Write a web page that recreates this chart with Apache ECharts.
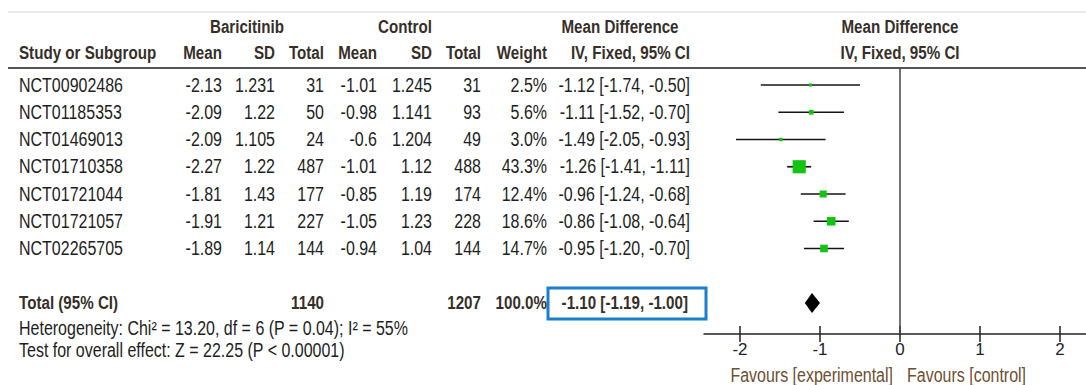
<!DOCTYPE html>
<html>
<head>
<meta charset="utf-8">
<title>Baricitinib vs Control – Mean Difference</title>
<script src="https://cdn.jsdelivr.net/npm/echarts@6/dist/echarts.min.js"></script>
<style>
  html, body { margin: 0; padding: 0; background: #ffffff; }
  #chart { width: 1086px; height: 385px; }
</style>
</head>
<body>
<div id="chart"></div>
<script>
// ---- study data ----
const studies   = ['NCT00902486', 'NCT01185353', 'NCT01469013', 'NCT01710358', 'NCT01721044', 'NCT01721057', 'NCT02265705'];
const bariMean  = [-2.13, -2.09, -2.09, -2.27, -1.81, -1.91, -1.89];
const bariSD    = [1.231, 1.22, 1.105, 1.22, 1.43, 1.21, 1.14];
const bariN     = [31, 50, 24, 487, 177, 227, 144];
const ctrlMean  = [-1.01, -0.98, -0.6, -1.01, -0.85, -1.05, -0.94];
const ctrlSD    = [1.245, 1.141, 1.204, 1.12, 1.19, 1.23, 1.04];
const ctrlN     = [31, 93, 49, 488, 174, 228, 144];
const weights   = [2.5, 5.6, 3.0, 43.3, 12.4, 18.6, 14.7];
const meanDiff  = [-1.12, -1.11, -1.49, -1.26, -0.96, -0.86, -0.95];
const ciLower   = [-1.74, -1.52, -2.05, -1.41, -1.24, -1.08, -1.20];
const ciUpper   = [-0.50, -0.70, -0.93, -1.11, -0.68, -0.64, -0.70];

// ---- pooled result ----
const totalBariN  = 1140;
const totalCtrlN  = 1207;
const totalWeight = 100.0;
const pooledMD    = -1.10;
const pooledLower = -1.19;
const pooledUpper = -1.00;

const heterogeneityText = 'Heterogeneity: Chi\u00b2 = 13.20, df = 6 (P = 0.04); I\u00b2 = 55%';
const overallEffectText = 'Test for overall effect: Z = 22.25 (P < 0.00001)';

// ---- axis ----
const axisTicks = [-2, -1, 0, 1, 2];
const favoursLeft  = 'Favours [experimental]';
const favoursRight = 'Favours [control]';

// row index of each study on the vertical scale; the total sits after one blank row
const studyRows = studies.map((_, i) => i);
const totalRow = studies.length + 1;

// ---- styling ----
// Arial-metric font squeezed horizontally, giving a narrow face
const FONT = '"Liberation Sans", Arial, sans-serif';
const FS = 19.5;
const FS_BOLD = 18.5;
const SQUEEZE = 0.82;
const TEXT_COLOR = '#1e1e1e';
const HEAD_COLOR = '#362f29';
const GREEN = '#14c414';
const COLS = { study: 19, bMean: 222, bSD: 275, bN: 324, cMean: 377, cSD: 432, cN: 481, weight: 547, md: 690 };

const fmt2 = v => v.toFixed(2);
const ciText = (m, l, u) => fmt2(m) + ' [' + fmt2(l) + ', ' + fmt2(u) + ']';

function txt(x, y, text, align, bold, color) {
  return {
    type: 'text', x: x, y: y, scaleX: SQUEEZE, scaleY: 1,
    style: {
      text: text,
      align: align, verticalAlign: 'middle',
      textAlign: align, textVerticalAlign: 'middle',
      fontFamily: FONT, fontSize: bold ? FS_BOLD : FS, fontWeight: bold ? 'bold' : 'normal',
      fill: color || TEXT_COLOR
    }
  };
}

const chart = echarts.init(document.getElementById('chart'), null, { renderer: 'svg' });

const option = {
  backgroundColor: '#ffffff',
  animation: false,
  grid: { left: 704, top: 68, width: 384, height: 266, outerBoundsMode: 'none', containLabel: false },
  xAxis: [
    {
      type: 'value', min: -2.45, max: 2.35, position: 'bottom',
      splitLine: { show: false },
      axisLine: { show: true, onZero: false, lineStyle: { color: '#222', width: 1.5 } },
      axisTick: { show: true, inside: false, length: 8, customValues: axisTicks, lineStyle: { color: '#222', width: 1.5 } },
      axisLabel: { show: true, customValues: axisTicks, margin: 7, color: '#222', fontFamily: FONT, fontSize: 17,
                   formatter: v => String(v) }
    },
    {
      type: 'value', min: -2.45, max: 2.35, position: 'bottom',
      splitLine: { show: false },
      axisLine: { show: false, onZero: false },
      axisTick: { show: true, inside: true, length: 8, customValues: axisTicks, lineStyle: { color: '#222', width: 1.5 } },
      axisLabel: { show: false }
    }
  ],
  yAxis: {
    type: 'value', inverse: true, min: -0.624, max: 9.138, show: false,
    splitLine: { show: false }
  },
  graphic: {
    elements: [
      { type: 'line', shape: { x1: 8, y1: 12, x2: 1086, y2: 12 }, style: { stroke: '#d6d6de', lineWidth: 1 } },
      { type: 'line', shape: { x1: 8, y1: 68, x2: 1086, y2: 68 }, style: { stroke: '#555555', lineWidth: 2.2 } },
      // column group headers
      txt(247, 27, 'Baricitinib', 'center', true, HEAD_COLOR),
      txt(405, 27, 'Control', 'center', true, HEAD_COLOR),
      txt(620, 27, 'Mean Difference', 'center', true, HEAD_COLOR),
      txt(900, 27, 'Mean Difference', 'center', true, HEAD_COLOR),
      txt(COLS.study, 53, 'Study or Subgroup', 'left', true, HEAD_COLOR),
      txt(COLS.bMean, 53, 'Mean', 'right', true, HEAD_COLOR),
      txt(COLS.bSD, 53, 'SD', 'right', true, HEAD_COLOR),
      txt(COLS.bN, 53, 'Total', 'right', true, HEAD_COLOR),
      txt(COLS.cMean, 53, 'Mean', 'right', true, HEAD_COLOR),
      txt(COLS.cSD, 53, 'SD', 'right', true, HEAD_COLOR),
      txt(COLS.cN, 53, 'Total', 'right', true, HEAD_COLOR),
      txt(COLS.weight, 53, 'Weight', 'right', true, HEAD_COLOR),
      txt(COLS.md, 53, 'IV, Fixed, 95% CI', 'right', true, HEAD_COLOR),
      txt(900, 53, 'IV, Fixed, 95% CI', 'center', true, HEAD_COLOR),
      // footer
      txt(COLS.study, 328, heterogeneityText, 'left', false, TEXT_COLOR),
      txt(COLS.study, 350, overallEffectText, 'left', false, TEXT_COLOR),
      txt(893, 375, favoursLeft, 'right', false, '#6e4f30'),
      txt(907, 375, favoursRight, 'left', false, '#6e4f30')
    ]
  },
  series: [
    // table rows for each study, positioned on the same vertical scale as the plot
    {
      type: 'custom', name: 'table', silent: true, clip: false,
      data: studyRows.map(r => [0, r]),
      encode: { x: 0, y: 1 },
      renderItem: function (params, api) {
        const i = params.dataIndex;
        const y = api.coord([0, api.value(1)])[1];
        return {
          type: 'group',
          children: [
            txt(COLS.study, y, studies[i], 'left'),
            txt(COLS.bMean, y, String(bariMean[i]), 'right'),
            txt(COLS.bSD, y, String(bariSD[i]), 'right'),
            txt(COLS.bN, y, String(bariN[i]), 'right'),
            txt(COLS.cMean, y, String(ctrlMean[i]), 'right'),
            txt(COLS.cSD, y, String(ctrlSD[i]), 'right'),
            txt(COLS.cN, y, String(ctrlN[i]), 'right'),
            txt(COLS.weight, y, weights[i].toFixed(1) + '%', 'right'),
            txt(COLS.md, y, ciText(meanDiff[i], ciLower[i], ciUpper[i]), 'right')
          ]
        };
      }
    },
    // pooled row text with its highlight box
    {
      type: 'custom', name: 'total', silent: true, clip: false,
      data: [[0, totalRow]],
      encode: { x: 0, y: 1 },
      renderItem: function (params, api) {
        const y = api.coord([0, api.value(1)])[1];
        return {
          type: 'group',
          children: [
            { type: 'rect', shape: { x: 548, y: y - 15, width: 158, height: 31 },
              style: { fill: 'none', stroke: '#1b7fc9', lineWidth: 3 } },
            txt(COLS.study, y, 'Total (95% CI)', 'left', true, HEAD_COLOR),
            txt(COLS.bN, y, String(totalBariN), 'right', true, HEAD_COLOR),
            txt(COLS.cN, y, String(totalCtrlN), 'right', true, HEAD_COLOR),
            txt(COLS.weight, y, totalWeight.toFixed(1) + '%', 'right', true, HEAD_COLOR),
            txt(COLS.md - 2, y, ciText(pooledMD, pooledLower, pooledUpper), 'right', true, HEAD_COLOR)
          ]
        };
      }
    },
    // study confidence intervals and weighted squares
    {
      type: 'custom', name: 'studies', silent: true, clip: false,
      data: studyRows.map((r, i) => [meanDiff[i], ciLower[i], ciUpper[i], r, weights[i]]),
      encode: { x: [0, 1, 2], y: 3 },
      renderItem: function (params, api) {
        const row = api.value(3);
        const pE = api.coord([api.value(0), row]);
        const pL = api.coord([api.value(1), row]);
        const pU = api.coord([api.value(2), row]);
        const s = 2 * Math.sqrt(api.value(4));
        return {
          type: 'group',
          children: [
            { type: 'line', shape: { x1: pL[0], y1: pL[1], x2: pU[0], y2: pU[1] },
              style: { stroke: '#151515', lineWidth: 1.7 } },
            { type: 'rect', shape: { x: pE[0] - s / 2, y: pE[1] - s / 2, width: s, height: s },
              style: { fill: GREEN } }
          ]
        };
      }
    },
    // pooled diamond, plus the line of no effect
    {
      type: 'custom', name: 'pooled', silent: true, clip: false,
      data: [[pooledMD, pooledLower, pooledUpper, totalRow]],
      encode: { x: [0, 1, 2], y: 3 },
      renderItem: function (params, api) {
        const row = api.value(3);
        const pE = api.coord([api.value(0), row]);
        const pL = api.coord([api.value(1), row]);
        const pU = api.coord([api.value(2), row]);
        const h = 10;
        return {
          type: 'polygon',
          shape: { points: [[pL[0], pE[1]], [pE[0], pE[1] - h], [pU[0], pE[1]], [pE[0], pE[1] + h]] },
          style: { fill: '#000000' }
        };
      },
      markLine: {
        silent: true, symbol: 'none', animation: false,
        label: { show: false },
        lineStyle: { color: '#444444', width: 1.5, type: 'solid' },
        data: [{ xAxis: 0 }]
      }
    }
  ]
};

chart.setOption(option);
</script>
</body>
</html>
